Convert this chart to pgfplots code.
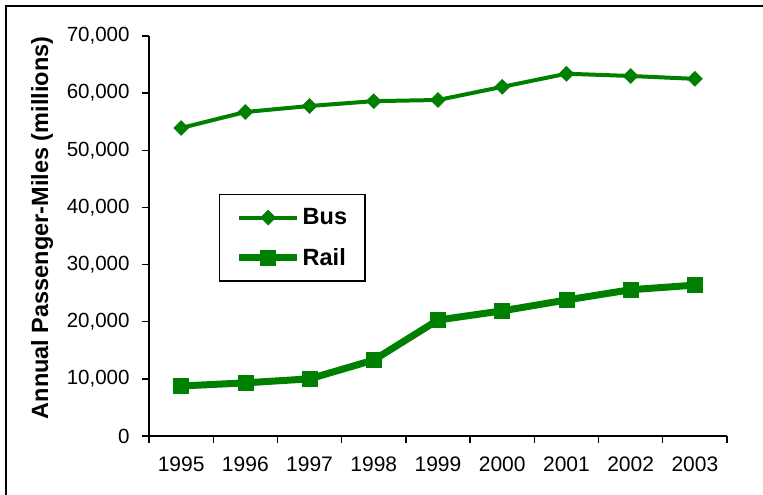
\documentclass[border=0pt]{standalone}
\usepackage{pgfplots}
\pgfplotsset{compat=1.18}
\usepackage{fontspec}
\setmainfont{Liberation Sans}
\definecolor{lg}{RGB}{0,128,0}
\begin{document}
\begin{tikzpicture}[x=1pt,y=1pt]
\useasboundingbox (0,0) rectangle (763,495);
\draw[line width=2pt] (6,-10) -- (6,489) -- (780,489);
\begin{axis}[
  at={(149pt,59pt)}, anchor=south west,
  scale only axis, width=578pt, height=400pt,
  xmin=-0.5, xmax=8.5, ymin=0, ymax=70000,
  axis x line*=bottom, axis y line*=left,
  axis line style={line width=1.3pt},
  xtick={0,...,8},
  xticklabels={1995,1996,1997,1998,1999,2000,2001,2002,2003},
  major x tick style={draw=none},
  minor xtick={-0.5,0.5,...,8.5},
  minor tick length=7pt,
  major tick length=7pt,
  tick align=outside,
  tick style={line width=1.3pt, black},
  ytick={0,10000,...,70000},
  scaled y ticks=false,
  /pgf/number format/.cd, 1000 sep={,}, assume math mode=true,
  /pgfplots/.cd,
  xticklabel style={font=\fontsize{21}{24}\selectfont, yshift=-10pt},
  yticklabel style={font=\fontsize{20.5}{24}\selectfont, xshift=-9pt},
  ylabel={\bfseries Annual Passenger-Miles (millions)},
  ylabel style={at={(axis description cs:-0.185,0.52)}, anchor=center, font=\fontsize{23.5}{26}\selectfont},
  legend style={at={(axis description cs:0.121,0.605)}, anchor=north west,
    draw=black, line width=1.5pt, font=\bfseries\fontsize{23.5}{26}\selectfont,
    inner xsep=16pt, inner ysep=12pt, row sep=18pt, nodes={inner sep=2pt}},
  legend cell align=left,
  legend image code/.code={\draw[#1, mark=none] (0pt,0pt) -- (58pt,0pt);
    \draw[#1] plot[only marks] coordinates {(29pt,0pt)};},
]
\addplot[lg, line width=4pt, mark=square*, mark size=5.3pt, mark options={rotate=45, line width=0.5pt, fill=lg}]
 coordinates {(0,53900) (1,56700) (2,57750) (3,58600) (4,58800) (5,61100) (6,63400) (7,63000) (8,62500)};
\addlegendentry{Bus}
\addplot[lg, line width=7pt, mark=square*, mark size=7.5pt, mark options={line width=0.5pt, fill=lg}]
 coordinates {(0,8750) (1,9300) (2,10000) (3,13300) (4,20300) (5,21900) (6,23800) (7,25600) (8,26400)};
\addlegendentry{Rail}
\end{axis}
\end{tikzpicture}
\end{document}
